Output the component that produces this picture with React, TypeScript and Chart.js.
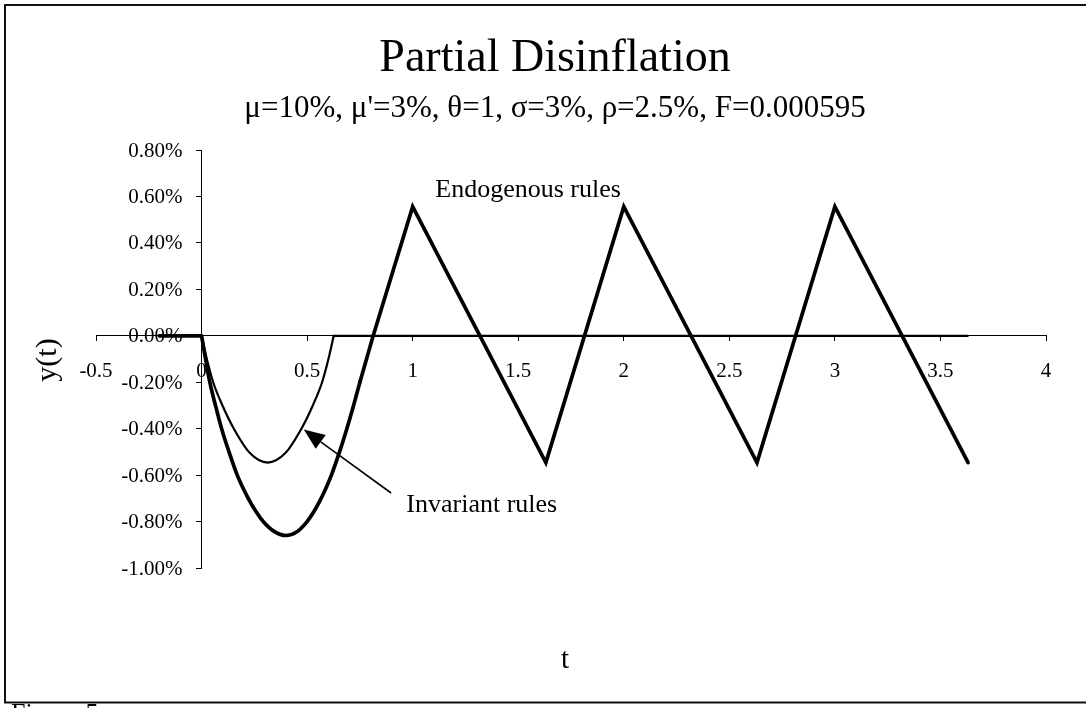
import React, { useEffect, useRef } from "react";
import { Chart, registerables } from "chart.js";

Chart.register(...registerables);

// ---------- text ----------
const TITLE = "Partial Disinflation";
const SUBTITLE = "μ=10%, μ'=3%, θ=1, σ=3%, ρ=2.5%, F=0.000595";
const X_TITLE = "t";
const Y_TITLE = "y(t)";
const FOOTNOTE = "Figure 5";
const ENDO_LABEL = "Endogenous rules";
const INV_LABEL = "Invariant rules";

// ---------- data (y in percent) ----------
// common lead-in before t = 0
const leadT = [-0.2, 0];
const leadY = [0, 0];

// Endogenous rules: curved part, then straight saw-tooth
const endoCurveT = [
  0, 0.02, 0.039, 0.066, 0.095, 0.13, 0.169, 0.221, 0.26, 0.292, 0.34, 0.4,
  0.45, 0.5, 0.54, 0.58, 0.615, 0.65, 0.685, 0.72, 0.75,
];
const endoCurveY = [
  0, -0.105, -0.2, -0.3, -0.4, -0.5, -0.6, -0.7, -0.76, -0.8, -0.84, -0.86,
  -0.845, -0.8, -0.745, -0.675, -0.6, -0.51, -0.41, -0.3, -0.2,
];
const endoZigT = [0.75, 0.813, 1, 1.631, 2, 2.631, 3, 3.631];
const endoZigY = [-0.2, 0, 0.556, -0.546, 0.556, -0.546, 0.556, -0.546];

// Invariant rules: curved part, then flat at zero
const invCurveT = [
  0, 0.025, 0.055, 0.099, 0.153, 0.229, 0.313, 0.397, 0.473, 0.527, 0.571, 0.601, 0.626,
];
const invCurveY = [
  0, -0.1, -0.2, -0.3, -0.4, -0.505, -0.546, -0.505, -0.4, -0.3, -0.2, -0.1, 0,
];
const invTailT = [0.626, 3.63];
const invTailY = [0, 0];

// ---------- axes ----------
const X_MIN = -0.5;
const X_MAX = 4;
const X_STEP = 0.5;
const Y_MIN = -1;
const Y_MAX = 0.8;
const Y_STEP = 0.2;

// annotation anchors (data units)
const endoLabelAt = { x: 1.107, y: 0.598 };
const invLabelAt = { x: 0.97, y: -0.761 };
const arrowFrom = { x: 0.898, y: -0.677 };
const arrowTo = { x: 0.484, y: -0.404 };

const FONT = '"Times New Roman", "Liberation Serif", Times, serif';
const TICK_FONT_SIZE = 21;

const toPoints = (xs: number[], ys: number[]) => xs.map((x, i) => ({ x, y: ys[i] }));
const fmtPct = (v: number) => (Math.abs(v) < 1e-9 ? 0 : v).toFixed(2) + "%";

const thick = {
  showLine: true,
  borderColor: "#000",
  borderWidth: 3.7,
  pointRadius: 0,
  borderCapStyle: "round" as const,
  borderJoinStyle: "miter" as const,
};
const thin = {
  showLine: true,
  borderColor: "#000",
  borderWidth: 2.2,
  pointRadius: 0,
  borderCapStyle: "round" as const,
};

const decorPlugin = {
  id: "decor",
  afterDraw(chart: any) {
    const ctx: CanvasRenderingContext2D = chart.ctx;
    const sx = chart.scales.x;
    const sy = chart.scales.y;
    ctx.save();

    // outer frame (top, left, bottom)
    ctx.strokeStyle = "#111";
    ctx.lineWidth = 2;
    ctx.beginPath();
    ctx.moveTo(1100, 5);
    ctx.lineTo(5, 5);
    ctx.lineTo(5, 702.5);
    ctx.lineTo(1100, 702.5);
    ctx.stroke();

    ctx.fillStyle = "#000";

    // y tick labels, to the left of the y axis at x = 0
    const axisX = sx.getPixelForValue(0);
    ctx.font = `${TICK_FONT_SIZE}px ${FONT}`;
    ctx.textAlign = "right";
    ctx.textBaseline = "middle";
    for (const tk of sy.ticks) {
      ctx.fillText(fmtPct(tk.value), axisX - 19, sy.getPixelForValue(tk.value) + 1);
    }

    ctx.textAlign = "center";
    ctx.textBaseline = "alphabetic";
    ctx.font = `46px ${FONT}`;
    ctx.fillText(TITLE, 555, 71);

    ctx.font = `31px ${FONT}`;
    ctx.fillText(SUBTITLE, 555, 117);

    ctx.font = `29px ${FONT}`;
    ctx.textBaseline = "middle";
    ctx.fillText(X_TITLE, 565, 660);

    ctx.save();
    ctx.font = `30px ${FONT}`;
    ctx.translate(48, 360);
    ctx.rotate(-Math.PI / 2);
    ctx.fillText(Y_TITLE, 0, 0);
    ctx.restore();

    // annotations
    ctx.textAlign = "left";
    ctx.textBaseline = "alphabetic";
    ctx.font = `26px ${FONT}`;
    ctx.fillText(ENDO_LABEL, sx.getPixelForValue(endoLabelAt.x), sy.getPixelForValue(endoLabelAt.y));
    ctx.fillText(INV_LABEL, sx.getPixelForValue(invLabelAt.x), sy.getPixelForValue(invLabelAt.y));

    // arrow
    const x0 = sx.getPixelForValue(arrowFrom.x);
    const y0 = sy.getPixelForValue(arrowFrom.y);
    const x1 = sx.getPixelForValue(arrowTo.x);
    const y1 = sy.getPixelForValue(arrowTo.y);
    const ang = Math.atan2(y1 - y0, x1 - x0);
    const headLen = 21;
    const headHalf = 8.5;
    const bx = x1 - headLen * Math.cos(ang);
    const by = y1 - headLen * Math.sin(ang);
    ctx.strokeStyle = "#000";
    ctx.lineWidth = 1.6;
    ctx.beginPath();
    ctx.moveTo(x0, y0);
    ctx.lineTo(bx, by);
    ctx.stroke();
    ctx.beginPath();
    ctx.moveTo(x1, y1);
    ctx.lineTo(bx + headHalf * Math.sin(ang), by - headHalf * Math.cos(ang));
    ctx.lineTo(bx - headHalf * Math.sin(ang), by + headHalf * Math.cos(ang));
    ctx.closePath();
    ctx.fill();

    // footnote (clipped at bottom of page)
    ctx.font = `26px ${FONT}`;
    ctx.textAlign = "left";
    ctx.fillText(FOOTNOTE, 11, 721);

    ctx.restore();
  },
};

export default function App() {
  const ref = useRef<HTMLCanvasElement>(null);

  useEffect(() => {
    if (!ref.current) return;
    const chart = new Chart(ref.current, {
      type: "scatter",
      data: {
        datasets: [
          { label: ENDO_LABEL, data: toPoints(leadT, leadY), ...thick },
          {
            label: ENDO_LABEL,
            data: toPoints(endoCurveT, endoCurveY),
            ...thick,
            cubicInterpolationMode: "monotone",
          },
          { label: ENDO_LABEL, data: toPoints(endoZigT, endoZigY), ...thick, tension: 0 },
          {
            label: INV_LABEL,
            data: toPoints(invCurveT, invCurveY),
            ...thin,
            cubicInterpolationMode: "monotone",
          },
          { label: INV_LABEL, data: toPoints(invTailT, invTailY), ...thin, tension: 0 },
        ],
      },
      options: {
        responsive: false,
        animation: false,
        devicePixelRatio: 1,
        layout: { padding: { left: 96, right: 40, top: 150, bottom: 140 } },
        plugins: {
          legend: { display: false },
          tooltip: { enabled: false },
          title: { display: false },
        },
        scales: {
          x: {
            type: "linear",
            min: X_MIN,
            max: X_MAX,
            position: { y: 0 } as any,
            ticks: {
              stepSize: X_STEP,
              autoSkip: false,
              maxRotation: 0,
              color: "#000",
              padding: 18,
              font: { family: FONT, size: TICK_FONT_SIZE },
              callback: (v: any) => String(Number(Number(v).toFixed(2))),
            },
            grid: {
              display: true,
              drawOnChartArea: false,
              drawTicks: true,
              tickLength: 5,
              tickColor: "#000",
              tickWidth: 1,
            },
            border: { display: true, color: "#000", width: 1 },
          },
          y: {
            type: "linear",
            min: Y_MIN,
            max: Y_MAX,
            position: { x: 0 } as any,
            ticks: {
              stepSize: Y_STEP,
              autoSkip: false,
              display: false,
            },
            grid: {
              display: true,
              drawOnChartArea: false,
              drawTicks: true,
              tickLength: 5,
              tickColor: "#000",
              tickWidth: 1,
            },
            border: { display: true, color: "#000", width: 1 },
          },
        },
      },
      plugins: [decorPlugin],
    });
    return () => chart.destroy();
  }, []);

  return (
    <div
      style={{
        position: "absolute",
        left: 0,
        top: 0,
        width: 1086,
        height: 708,
        background: "#fff",
        overflow: "hidden",
      }}
    >
      <canvas ref={ref} width={1086} height={708} style={{ display: "block", width: 1086, height: 708 }} />
    </div>
  );
}
